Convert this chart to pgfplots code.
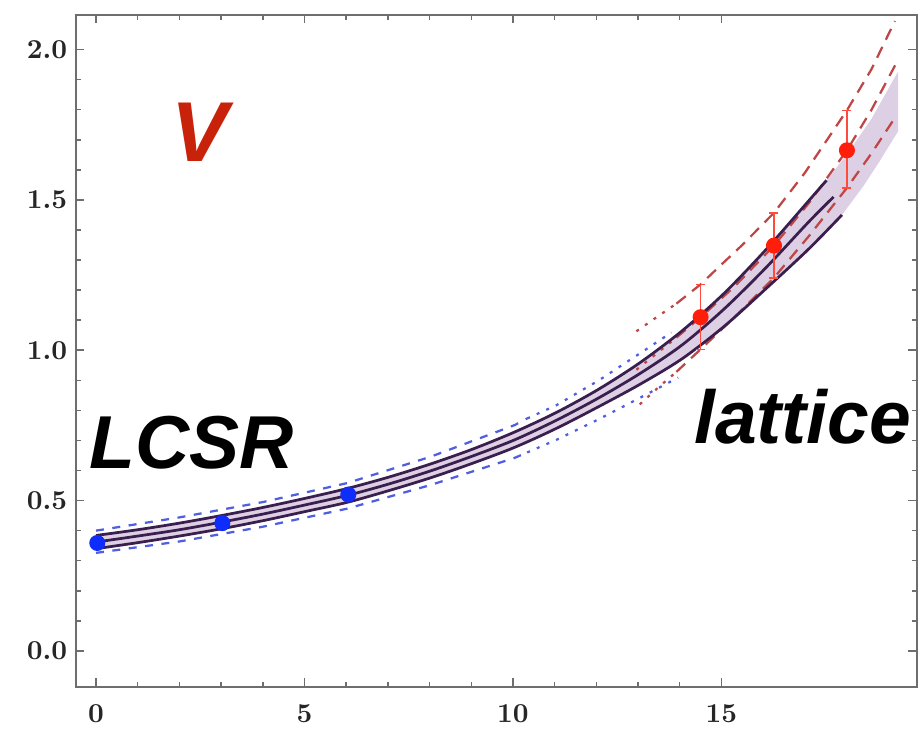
\documentclass[border=0pt]{standalone}
\usepackage{pgfplots}
\pgfplotsset{compat=1.18}
\usepackage{fontspec}
\newfontfamily\helv{Liberation Sans}
\definecolor{bandfill}{RGB}{222,208,228}
\definecolor{solidc}{RGB}{58,30,78}
\definecolor{bluel}{RGB}{80,95,225}
\definecolor{redl}{RGB}{190,70,70}
\definecolor{redpt}{RGB}{255,30,10}
\definecolor{bluept}{RGB}{15,45,250}
\definecolor{vred}{RGB}{200,35,10}
\definecolor{framec}{RGB}{110,110,110}
\begin{document}
\begin{tikzpicture}
\begin{axis}[
  scale only axis, width=336.4pt, height=268.8pt,
  xmin=-0.48, xmax=19.69, ymin=-0.12, ymax=2.115,
  xtick={0,5,10,15}, ytick={0,0.5,1,1.5,2},
  minor x tick num=4, minor y tick num=4,
  xtick pos=both, ytick pos=both,
  xticklabel pos=left, yticklabel pos=left,
  tick align=inside,
  major tick length=3.4pt, minor tick length=2pt,
  every tick/.style={framec, line width=0.6pt},
  axis line style={framec, line width=1pt},
  tick label style={font=\fontsize{11}{13}\selectfont\boldmath, text=black!85},
  yticklabel style={/pgf/number format/.cd, fixed, fixed zerofill, precision=1},
  xticklabel style={yshift=-3.5pt},
]
% combined-fit band
\addplot[draw=none, fill=bandfill] coordinates {
 (0,0.384) (1,0.403) (2,0.425) (3,0.450) (4,0.477) (5,0.507) (6.02,0.540) (7.02,0.578)
 (8.03,0.622) (9.03,0.671) (10.04,0.728) (11.04,0.793) (12.05,0.870) (13.05,0.959)
 (14.06,1.065) (15.07,1.19) (16.07,1.335) (17.08,1.495) (17.52,1.565) (18.0,1.65)
 (18.6,1.77) (19.24,1.928)
 (19.24,1.729) (18.8,1.63) (18.4,1.545) (17.89,1.45) (17.08,1.335) (16.07,1.205)
 (15.07,1.08) (14.06,0.972) (13.05,0.887) (12.05,0.812) (11.04,0.740) (10.04,0.677)
 (9.03,0.624) (8.03,0.576) (7.02,0.533) (6.02,0.494) (5,0.463) (4,0.433) (3,0.406)
 (2,0.382) (1,0.360) (0,0.340)
};
% LCSR fit (blue)
\addplot[bluel, line width=0.9pt, dash pattern=on 3.2pt off 3.4pt] coordinates {
 (0,0.400) (2,0.444) (4,0.495) (6.02,0.558) (8.03,0.646) (10.04,0.751) (10.34,0.773)};
\addplot[bluel, line width=0.9pt, dash pattern=on 1.2pt off 3pt] coordinates {
 (10.34,0.773) (11.04,0.817) (12.05,0.899) (13.05,0.990) (13.8,1.059)};
\addplot[bluel, line width=0.9pt, dash pattern=on 3.2pt off 3.4pt] coordinates {
 (0,0.326) (2,0.364) (4,0.413) (6.02,0.473) (8.03,0.552) (10.04,0.642) (10.34,0.660)};
\addplot[bluel, line width=0.9pt, dash pattern=on 1.2pt off 3pt] coordinates {
 (10.34,0.660) (11.04,0.702) (12.05,0.770) (13.05,0.842) (13.96,0.909)};
% lattice fit (red)
\addplot[redl, line width=0.9pt, dash pattern=on 1.2pt off 3pt] coordinates {
 (12.96,1.063) (13.5,1.115) (13.92,1.155)};
\addplot[redl, line width=0.9pt, dash pattern=on 4.8pt off 3.2pt] coordinates {
 (13.92,1.155) (14.5,1.219) (15.0,1.285) (15.5,1.35) (16.26,1.457) (17.0,1.59)
 (18.01,1.798) (18.6,1.935) (19.16,2.095)};
\addplot[redl, line width=0.9pt, dash pattern=on 1.2pt off 3pt] coordinates {
 (12.96,0.935) (13.92,1.042)};
\addplot[redl, line width=0.9pt, dash pattern=on 4.8pt off 3.2pt] coordinates {
 (13.92,1.042) (14.5,1.110) (15.3,1.21) (16.26,1.348) (17.1,1.49) (18.01,1.665)
 (18.6,1.80) (19.24,1.967)};
\addplot[redl, line width=0.9pt, dash pattern=on 1.2pt off 3pt] coordinates {
 (13.04,0.820) (13.5,0.878) (13.92,0.928)};
\addplot[redl, line width=0.9pt, dash pattern=on 4.8pt off 3.2pt] coordinates {
 (13.92,0.928) (14.5,1.003) (15.3,1.108) (16.26,1.241) (17.1,1.38) (18.01,1.540)
 (18.6,1.655) (19.16,1.773)};
% combined fit (solid)
\addplot[solidc, line width=1.1pt, smooth] coordinates {
 (0,0.384) (1,0.403) (2,0.425) (3,0.450) (4,0.477) (5,0.507) (6.02,0.540) (7.02,0.578)
 (8.03,0.622) (9.03,0.671) (10.04,0.728) (11.04,0.793) (12.05,0.870) (13.05,0.959)
 (14.06,1.065) (15.07,1.19) (16.07,1.335) (17.08,1.495) (17.52,1.565)};
\addplot[solidc, line width=1.1pt, smooth] coordinates {
 (0,0.362) (1,0.382) (2,0.403) (3,0.428) (4,0.455) (5,0.485) (6.02,0.517) (7.02,0.555)
 (8.03,0.599) (9.03,0.648) (10.04,0.702) (11.04,0.767) (12.05,0.841) (13.05,0.923)
 (14.06,1.018) (15.07,1.138) (16.07,1.275) (17.08,1.425) (17.69,1.51)};
\addplot[solidc, line width=1.1pt, smooth] coordinates {
 (0,0.340) (1,0.360) (2,0.382) (3,0.406) (4,0.433) (5,0.463) (6.02,0.494) (7.02,0.533)
 (8.03,0.576) (9.03,0.624) (10.04,0.677) (11.04,0.740) (12.05,0.812) (13.05,0.887)
 (14.06,0.972) (15.07,1.08) (16.07,1.205) (17.08,1.335) (17.89,1.45)};
% data points
\addplot[only marks, mark=*, mark size=3pt, color=bluept] coordinates {
 (0.03,0.359) (3.03,0.425) (6.05,0.520)};
\addplot[only marks, mark=*, mark size=3pt, color=redpt,
  error bars/.cd, y dir=both, y explicit,
  error bar style={redpt!80, line width=0.6pt},
  error mark options={rotate=90, mark size=1.8pt, redpt!80, line width=0.6pt}]
 coordinates {
 (14.5,1.110) += (0,0.109) -= (0,0.107)
 (16.26,1.348) += (0,0.109) -= (0,0.107)
 (18.01,1.665) += (0,0.133) -= (0,0.125)};
% labels
\node[inner sep=0, text=vred, font=\helv\bfseries\itshape\fontsize{34}{34}\selectfont] at (axis cs:2.5,1.725) {V};
\node[inner sep=0, text=black, font=\helv\bfseries\itshape\fontsize{30}{30}\selectfont] at (axis cs:2.3,0.692) {LCSR};
\node[inner sep=0, text=black, font=\helv\bfseries\itshape\fontsize{30}{30}\selectfont] at (axis cs:16.95,0.78) {lattice};
\end{axis}
\pgfresetboundingbox
\path[use as bounding box] (current axis.south west) ++(-30.4pt,-16.8pt) rectangle ++(368pt,291.6pt);
\end{tikzpicture}
\end{document}
